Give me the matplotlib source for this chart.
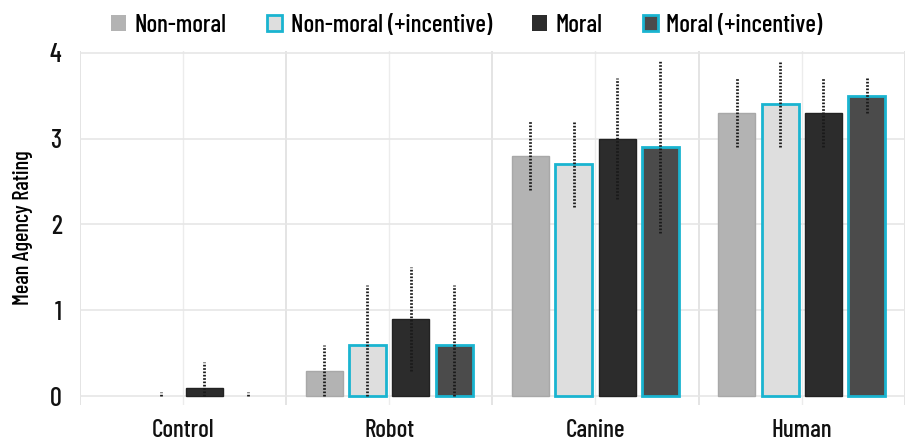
import numpy as np
import matplotlib.pyplot as plt
from matplotlib.patches import Patch

plt.rcParams['font.family'] = ['Barlow Condensed', 'Barlow Semi Condensed', 'DejaVu Sans']

# agent types and the four conditions
agents = ['Control', 'Robot', 'Canine', 'Human']
conditions = ['Non-moral', 'Non-moral (+incentive)', 'Moral', 'Moral (+incentive)']

# mean agency ratings per condition (one value per agent)
nonmoral = [0.0, 0.3, 2.8, 3.3]
nonmoral_inc = [0.0, 0.6, 2.7, 3.4]
moral = [0.1, 0.9, 3.0, 3.3]
moral_inc = [0.0, 0.6, 2.9, 3.5]

# spread shown by the dotted bars
nonmoral_err = [0.0, 0.3, 0.4, 0.4]
nonmoral_inc_err = [0.05, 0.7, 0.5, 0.5]
moral_err = [0.3, 0.6, 0.7, 0.4]
moral_inc_err = [0.05, 0.7, 1.0, 0.2]

means = [nonmoral, nonmoral_inc, moral, moral_inc]
errs = [nonmoral_err, nonmoral_inc_err, moral_err, moral_inc_err]
faces = ['#b3b3b3', '#dedede', '#2c2c2c', '#4b4b4b']
edges = ['#a8a8a8', '#1ab4d0', '#222222', '#1ab4d0']
lws = [1.0, 2.0, 1.0, 2.0]

fig = plt.figure(figsize=(9.05, 4.43), dpi=100)
ax = fig.add_axes([0.088, 0.086, 0.912, 0.799])

x = np.arange(len(agents))
step = 0.21
width = 0.18
offsets = (np.arange(4) - 1.5) * step

handles = []
for k in range(4):
    m = np.array(means[k])
    e = np.array(errs[k])
    pos = x + offsets[k]
    # zero-height bars are left undrawn
    lw = np.where(m > 0, lws[k], 0.0)
    ax.bar(pos, m, width, color=faces[k], edgecolor=edges[k],
           linewidth=lw, zorder=3)
    handles.append(Patch(facecolor=faces[k], edgecolor=edges[k],
                         linewidth=lws[k] if k % 2 else 0))
    lo = np.minimum(e, m)
    for p, mm, l, h in zip(pos, m, lo, e):
        if h <= 0:
            continue
        ax.plot([p, p], [mm - l, mm + h], color='#1a1a1a', lw=2.0,
                linestyle=(0, (0.6, 0.6)), zorder=4,
                dash_capstyle='butt')

# grid: one line at each agent, one between agents
for xv in x:
    ax.axvline(xv, color='#ececec', lw=1.0, zorder=0)
for xv in np.arange(-0.5, 4.0, 1.0):
    ax.axvline(xv, color='#e2e2e2', lw=1.3, zorder=0)
for yv in range(5):
    ax.axhline(yv, color='#e6e6e6', lw=1.2, zorder=0)

ax.set_xlim(-0.5, 3.5)
ax.set_ylim(-0.1, 4.02)
ax.set_xticks(x)
ax.set_xticklabels(agents, fontsize=18, fontweight='medium')
ax.set_yticks(range(5))
ax.set_yticklabels([str(v) for v in range(5)], fontsize=19, fontweight='medium')
ax.tick_params(axis='x', length=0, pad=10, colors='#111111')
ax.tick_params(axis='y', length=0, pad=13, colors='#111111')
ax.set_ylabel('Mean Agency Rating', fontsize=16, labelpad=12, fontweight='medium')
for s in ax.spines.values():
    s.set_visible(False)

fig.legend(handles=handles, labels=conditions, loc='upper center',
           bbox_to_anchor=(0.516, 1.02), ncol=4, frameon=False,
           prop={'size': 18, 'weight': 'medium'},
           handlelength=0.6, handleheight=0.6, handletextpad=0.35,
           columnspacing=1.6)

fig.savefig('out.png', dpi=100)
